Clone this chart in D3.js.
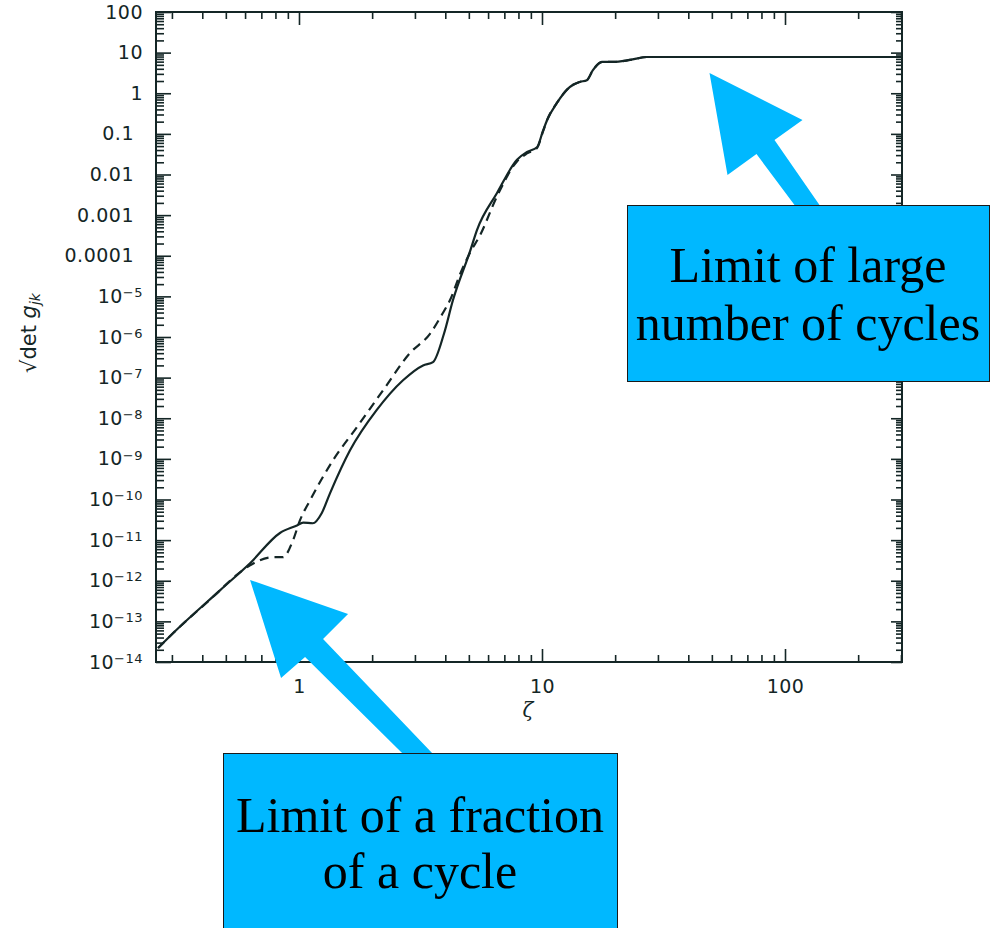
<!DOCTYPE html>
<html>
<head>
<meta charset="utf-8">
<script src="https://cdn.jsdelivr.net/npm/d3@7"></script>
<style>
body { margin: 0; background: #fff; }
</style>
</head>
<body>
<div class="viz1"></div>
<script>
// solid curve (zeta, sqrt det g)
var solidZeta = [0.263, 0.303, 0.473, 0.629, 0.835, 0.981, 1.04, 1.14, 1.24, 1.34, 1.62, 2.09, 2.68, 3.24, 3.56, 3.95, 4.30, 5.06, 5.40, 6.53, 7.89, 8.68, 9.54, 10.1, 10.5, 11.5, 13.0, 14.3, 15.3, 16.2, 17.7, 19.6, 23.0, 27.0, 44.7, 300];
var solidG = [2.2e-14, 5.1e-14, 5.8e-13, 2.7e-12, 1.5e-11, 2.3e-11, 2.7e-11, 2.6e-11, 4.6e-11, 1.4e-10, 1.6e-9, 1.6e-8, 8.6e-8, 2.0e-7, 2.4e-7, 1.2e-6, 8.0e-6, 1.3e-4, 4.3e-4, 3.5e-3, 0.023, 0.036, 0.047, 0.12, 0.22, 0.57, 1.42, 1.9, 2.1, 3.7, 5.9, 5.9, 6.6, 7.8, 7.8, 7.8];

// dashed curve
var dashedZeta = [0.263, 0.303, 0.473, 0.52, 0.629, 0.782, 0.859, 0.945, 1.01, 1.11, 1.38, 1.73, 2.22, 2.86, 3.46, 3.91, 4.18, 4.60, 5.06, 5.56, 6.53, 7.89, 8.68, 9.54, 10.1, 10.5, 11.5, 13.0, 14.3, 15.3, 16.2, 17.7, 19.6, 23.0, 27.0, 44.7, 300];
var dashedG = [2.2e-14, 5.1e-14, 5.8e-13, 1.0e-12, 2.4e-12, 3.8e-12, 3.8e-12, 9.9e-12, 3.1e-11, 9.5e-11, 9.2e-10, 6.0e-9, 4.9e-8, 4.0e-7, 1.2e-6, 3.9e-6, 8.0e-6, 3.5e-5, 1.2e-4, 3.2e-4, 2.9e-3, 0.021, 0.033, 0.045, 0.115, 0.22, 0.57, 1.42, 1.9, 2.1, 3.7, 5.9, 5.9, 6.6, 7.8, 7.8, 7.8];

// tick labels
var xTickValues = [1, 10, 100];
var xTickLabels = ["1", "10", "100"];
var yTickValues = [100, 10, 1, 0.1, 0.01, 0.001, 0.0001, 1e-5, 1e-6, 1e-7, 1e-8, 1e-9, 1e-10, 1e-11, 1e-12, 1e-13, 1e-14];
var yTickLabels = ["100", "10", "1", "0.1", "0.01", "0.001", "0.0001", "10^\u22125", "10^\u22126", "10^\u22127", "10^\u22128", "10^\u22129", "10^\u221210", "10^\u221211", "10^\u221212", "10^\u221213", "10^\u221214"];

// annotations: arrow tip in data coords, box text lines
var noteTips = [[48.9, 3.15], [0.629, 1.05e-12]];
var noteLines = [["Limit of large", "number of cycles"], ["Limit of a fraction", "of a cycle"]];

var w = 990;
var h = 928;
var pLeft = 156, pRight = 902, pTop = 12, pBottom = 662;
var ink = "#142626";

var xScale = d3.scaleLog()
            .domain([0.258, 303])
            .range([pLeft, pRight]);

var yScale = d3.scaleLog()
            .domain([1e-14, 100])
            .range([pBottom, pTop]);

var svg = d3.select(".viz1")
        .append("svg")
        .attr("width", w)
        .attr("height", h)
        .style("display", "block");

// minor tick positions
var xMinor = [];
[0.1, 1, 10, 100].forEach(function(p) {
    for (var k = 2; k <= 9; k++) {
        var v = k * p;
        if (v > 0.258 && v < 303) xMinor.push(v);
    }
});
var yMinor = [];
for (var e = -14; e < 2; e++) {
    for (var k = 2; k <= 9; k++) yMinor.push(k * Math.pow(10, e));
}

function styleAxis(g) {
    g.select(".domain").remove();
    g.selectAll(".tick line").attr("stroke", ink).attr("stroke-width", 1.6);
    g.selectAll(".tick text")
        .attr("fill", ink)
        .attr("font-family", "'DejaVu Sans', sans-serif")
        .attr("font-size", "19px")
        .attr("letter-spacing", "0.5px");
}

// left axis
var yMajor = svg.append("g")
    .attr("transform", "translate(" + pLeft + ",0)")
    .call(d3.axisLeft(yScale).tickValues(yTickValues).tickSize(-15).tickPadding(13).tickFormat(""))
    .call(styleAxis);

yMajor.selectAll(".tick text").each(function(d, i) {
    var parts = yTickLabels[i].split("^");
    var t = d3.select(this);
    if (parts[0].indexOf(".") >= 0) t.attr("dx", "-9");
    t.append("tspan").text(parts[0]);
    if (parts.length > 1) {
        t.append("tspan")
            .attr("dy", "-0.45em")
            .attr("font-size", "13px")
            .text(parts[1]);
    }
});

svg.append("g")
    .attr("transform", "translate(" + pLeft + ",0)")
    .call(d3.axisLeft(yScale).tickValues(yMinor).tickSize(-8).tickFormat(""))
    .call(styleAxis);

// right axis
svg.append("g")
    .attr("transform", "translate(" + pRight + ",0)")
    .call(d3.axisRight(yScale).tickValues(yTickValues).tickSize(-11).tickFormat(""))
    .call(styleAxis);

svg.append("g")
    .attr("transform", "translate(" + pRight + ",0)")
    .call(d3.axisRight(yScale).tickValues(yMinor).tickSize(-6).tickFormat(""))
    .call(styleAxis);

// bottom axis
svg.append("g")
    .attr("transform", "translate(0," + pBottom + ")")
    .call(d3.axisBottom(xScale).tickValues(xTickValues).tickSize(-13).tickPadding(18)
        .tickFormat(function(d, i) { return xTickLabels[i]; }))
    .call(styleAxis);

svg.append("g")
    .attr("transform", "translate(0," + pBottom + ")")
    .call(d3.axisBottom(xScale).tickValues(xMinor).tickSize(-7).tickFormat(""))
    .call(styleAxis);

// top axis
svg.append("g")
    .attr("transform", "translate(0," + pTop + ")")
    .call(d3.axisTop(xScale).tickValues(xTickValues).tickSize(-13).tickFormat(""))
    .call(styleAxis);

svg.append("g")
    .attr("transform", "translate(0," + pTop + ")")
    .call(d3.axisTop(xScale).tickValues(xMinor).tickSize(-7).tickFormat(""))
    .call(styleAxis);

// frame
svg.append("rect")
    .attr("x", pLeft)
    .attr("y", pTop)
    .attr("width", pRight - pLeft)
    .attr("height", pBottom - pTop)
    .attr("fill", "none")
    .attr("stroke", ink)
    .attr("stroke-width", 2);

// axis titles
svg.append("text")
    .attr("x", 528)
    .attr("y", 717)
    .attr("text-anchor", "middle")
    .attr("font-family", "'DejaVu Serif', serif")
    .attr("font-style", "italic")
    .attr("font-size", "20px")
    .attr("fill", ink)
    .text("\u03b6");

var yTitle = svg.append("text")
    .attr("transform", "translate(36,333) rotate(-90)")
    .attr("text-anchor", "middle")
    .attr("font-family", "'DejaVu Sans', sans-serif")
    .attr("font-size", "21px")
    .attr("fill", ink);
yTitle.append("tspan").text("\u221adet ");
yTitle.append("tspan").attr("font-style", "italic").text("g");
yTitle.append("tspan").attr("font-style", "italic").attr("font-size", "14px").attr("dy", "0.3em").text("jk");

// curves
var line = d3.line()
    .x(function(d) { return xScale(d[0]); })
    .y(function(d) { return yScale(d[1]); })
    .curve(d3.curveMonotoneX);

svg.append("path")
    .datum(d3.zip(solidZeta, solidG))
    .attr("d", line)
    .attr("fill", "none")
    .attr("stroke", ink)
    .attr("stroke-width", 2.2);

svg.append("path")
    .datum(d3.zip(dashedZeta, dashedG))
    .attr("d", line)
    .attr("fill", "none")
    .attr("stroke", ink)
    .attr("stroke-width", 2.2)
    .attr("stroke-dasharray", "9,6");

// annotations
var cyan = "#00b8ff";
var arrowShapes = [
    [[0, 0], [93, 47], [65, 67], [110, 132], [85, 132], [47, 81], [18, 102]],
    [[0, 0], [98, 34], [73, 59], [182, 173], [152, 173], [55, 77], [31, 98]]
];
var boxes = [
    {x: 627, y: 205, w: 362, h: 176, base: [282, 340]},
    {x: 223, y: 753, w: 394, h: 180, base: [832, 888]}
];

noteTips.forEach(function(tip, i) {
    var tx = xScale(tip[0]);
    var ty = yScale(tip[1]);
    svg.append("polygon")
        .attr("points", arrowShapes[i].map(function(p) {
            return (tx + p[0]) + "," + (ty + p[1]);
        }).join(" "))
        .attr("fill", cyan);

    var b = boxes[i];
    svg.append("rect")
        .attr("x", b.x + 0.5)
        .attr("y", b.y + 0.5)
        .attr("width", b.w)
        .attr("height", b.h)
        .attr("fill", cyan)
        .attr("stroke", "#1a1a1a")
        .attr("stroke-width", 1);

    noteLines[i].forEach(function(s, j) {
        svg.append("text")
            .attr("x", b.x + b.w / 2)
            .attr("y", b.base[j])
            .attr("text-anchor", "middle")
            .attr("font-family", "'Liberation Serif', 'Times New Roman', serif")
            .attr("font-size", "50px")
            .attr("fill", "#000")
            .text(s);
    });
});
</script>
</body>
</html>
